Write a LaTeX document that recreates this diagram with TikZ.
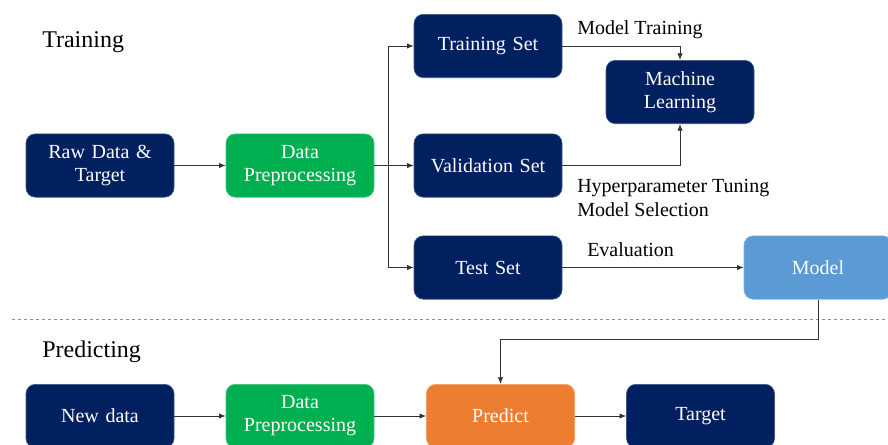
\documentclass[tikz,border=0pt]{standalone}
\usepackage{fontspec}
\setmainfont{Liberation Serif}
\usetikzlibrary{arrows.meta}

\definecolor{navy}{HTML}{002060}
\definecolor{prepgreen}{HTML}{00B050}
\definecolor{predorange}{HTML}{ED7D31}
\definecolor{modelblue}{HTML}{5B9BD5}

\begin{document}
\begin{tikzpicture}[x=0.75pt,y=-0.75pt,
  box/.style={rounded corners=7pt, minimum width=111pt, minimum height=47.5pt,
    text width=105pt, align=center, inner sep=0pt, text=white,
    font=\fontsize{15}{17.25}\selectfont, fill=#1, draw=#1!75!white, line width=0.5pt},
  flow/.style={-{Latex[length=5pt,width=4pt]}, line width=0.6pt, black!80},
  heading/.style={anchor=west, inner sep=0pt, font=\fontsize{18}{21}\selectfont},
  note/.style={anchor=west, inner sep=0pt, align=left, font=\fontsize{15}{18}\selectfont}]
\useasboundingbox (0,0) rectangle (888,444);
\clip (0,0) rectangle (888,444);

% training stage
\node[heading] (htrain) at (42,42) {Training};
\node[box=navy] (raw) at (100,165.5) {Raw Data \&\\Target};
\node[box=prepgreen] (prep) at (300,165.5) {Data\\Preprocessing};
\node[box=navy] (trainset) at (488,46) {Training Set};
\node[box=navy] (valset) at (488,165.5) {Validation Set};
\node[box=navy] (testset) at (488,267.5) {Test Set};
\node[box=navy] (ml) at (680,92) {Machine\\Learning};
\node[box=modelblue] (model) at (818,267.5) {Model};

\node[note] (ltrain) at (577,30) {Model Training};
\node[note] (ltune) at (577,198) {Hyperparameter Tuning\\Model Selection};
\node[note] (leval) at (587,250) {Evaluation};

\coordinate (split) at (388,165.5);
\draw[flow] (raw) -- (prep);
\draw[flow] (prep) -- (valset);
\draw[flow] (split) |- (trainset);
\draw[flow] (split) |- (testset);
\draw[flow] (trainset) -| (ml);
\draw[flow] (valset) -| (ml);
\draw[flow] (testset) -- (model);

% stage separator
\coordinate (sepL) at (12,319);
\coordinate (sepR) at (888,319);
\draw[black!45, dash pattern=on 2.5pt off 2pt, line width=0.6pt] (sepL) -- (sepR);

% predicting stage
\node[heading] (hpred) at (42,352) {Predicting};
\node[box=navy] (newdata) at (100,416) {New data};
\node[box=prepgreen] (prep2) at (300,416) {Data\\Preprocessing};
\node[box=predorange] (predict) at (500.5,416) {Predict};
\node[box=navy] (target) at (700.5,416) {Target};

\draw[flow] (model.south) -- ++(0,40) -| (predict);
\draw[flow] (newdata) -- (prep2);
\draw[flow] (prep2) -- (predict);
\draw[flow] (predict) -- (target);
\end{tikzpicture}
\end{document}
